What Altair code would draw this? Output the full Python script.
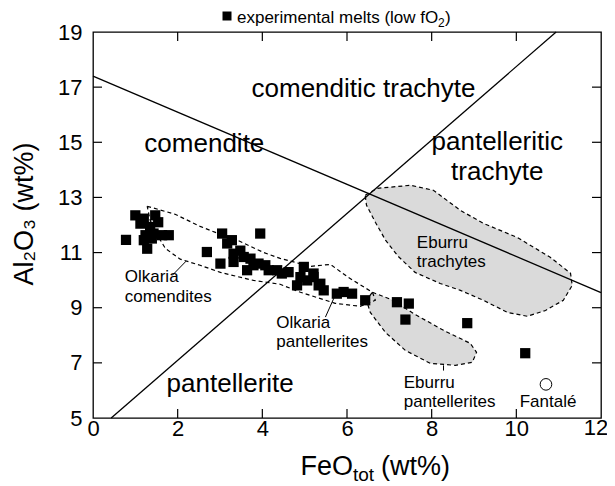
import altair as alt
import pandas as pd

FONT = "Liberation Sans"

# experimental melts (low fO2)
melt_x = [0.78, 1.00, 1.20, 1.47, 1.12, 1.35, 1.24, 1.43, 1.79, 1.63, 1.20, 1.39, 1.28, 1.54,
          2.69, 3.01, 3.05, 3.95, 3.17, 3.28, 3.32, 3.32, 3.56, 3.72, 3.79, 3.91, 4.07, 4.15,
          4.35, 4.46, 4.62, 4.98, 4.90, 5.06, 5.21, 4.82, 5.33, 5.45, 3.48, 3.64, 5.21, 5.37,
          5.76, 5.92, 6.12, 6.43, 7.18, 7.46, 7.38, 8.84, 10.21]
melt_y = [11.46, 12.35, 12.23, 12.35, 12.05, 11.93, 11.63, 11.69, 11.63, 11.63, 11.45, 11.51, 11.14, 12.10,
          11.02, 10.60, 11.69, 11.69, 11.33, 11.45, 10.96, 10.66, 10.84, 10.78, 10.54, 10.60, 10.54, 10.36,
          10.36, 10.24, 10.29, 10.48, 10.11, 9.99, 10.11, 9.81, 9.81, 9.63, 11.07, 10.36, 10.24, 9.87,
          9.51, 9.57, 9.51, 9.27, 9.20, 9.15, 8.57, 8.44, 7.35]

fantale_x = [10.70]
fantale_y = [6.22]

# classification boundaries
line1_x = [0.0, 12.0]
line1_y = [17.40, 9.55]
line2_x = [0.43, 10.94]
line2_y = [5.0, 19.0]

# fields (dashed outlines)
olk_x = [1.28, 1.94, 2.53, 3.01, 3.41, 4.02, 4.42, 5.13, 5.61, 6.03, 6.60, 6.67, 6.31, 5.72,
         4.90, 4.42, 3.79, 3.01, 2.53, 2.06, 1.71, 1.52, 1.35, 1.28]
olk_y = [12.68, 12.39, 11.95, 11.66, 11.45, 11.01, 10.79, 10.50, 10.57, 10.10, 9.56, 9.27, 9.05, 9.16,
         9.56, 9.85, 9.99, 10.28, 10.54, 10.76, 11.15, 11.63, 12.17, 12.68]
ebt_x = [6.43, 6.72, 7.50, 8.04, 8.68, 9.22, 10.02, 10.80, 11.28, 11.32, 11.11, 10.69, 10.26, 9.79,
         9.22, 8.68, 8.20, 7.61, 7.21, 6.91, 6.67, 6.46, 6.43]
ebt_y = [13.08, 13.33, 13.44, 13.26, 12.53, 12.06, 11.55, 10.83, 10.25, 9.81, 9.27, 8.90, 8.69, 8.83,
         9.27, 9.63, 9.88, 10.28, 10.86, 11.45, 12.10, 12.72, 13.08]
ebp_x = [6.60, 7.09, 7.57, 8.28, 8.91, 9.06, 8.96, 8.56, 7.97, 7.38, 6.91, 6.55, 6.46, 6.60]
ebp_y = [9.56, 9.27, 8.79, 8.18, 7.71, 7.38, 7.02, 6.91, 6.98, 7.45, 8.10, 8.83, 9.27, 9.56]

# leader lines
lead_id = ["a", "a", "b", "b", "c", "c"]
lead_x = [1.87, 2.20, 5.49, 5.72, 8.28, 8.28]
lead_y = [10.17, 10.69, 8.66, 9.45, 6.91, 6.72]

# field names
big_text = ["comenditic trachyte", "comendite", "pantelleritic", "trachyte", "pantellerite"]
big_x = [6.39, 2.63, 9.55, 9.55, 3.24]
big_y = [16.64, 14.64, 14.71, 13.62, 5.93]

small_text = ["Olkaria", "comendites", "Olkaria", "pantellerites", "Eburru", "trachytes",
              "Eburru", "pantellerites", "Fantalé"]
small_x = [0.75, 0.75, 4.33, 4.33, 7.65, 7.65, 7.34, 7.34, 10.08]
small_y = [9.93, 9.20, 8.28, 7.57, 11.18, 10.48, 6.10, 5.39, 5.39]

x_ticks = [2, 4, 6, 8, 10]
y_ticks = [7, 9, 11, 13, 15, 17]
x_labels = [0, 2, 4, 6, 8, 10]
x_last_label = [12]
y_labels = [5, 7, 9, 11, 13, 15, 17, 19]

W, H = 508, 386
xs = alt.Scale(domain=[0, 12], nice=False, zero=False)
ys = alt.Scale(domain=[5, 19], nice=False, zero=False)

axis_x = alt.Axis(values=x_labels, tickSize=0, domain=False, grid=False, title=None,
                  labelFontSize=22, labelFont=FONT, labelColor="black", labelPadding=0,
                  labelFlush=False)
axis_y = alt.Axis(values=y_labels, tickSize=0, domain=False, grid=False, title=None,
                  labelFontSize=22, labelFont=FONT, labelColor="black", labelPadding=11,
                  labelFlush=False)


def poly(name, xv, yv):
    return pd.DataFrame({"x": xv, "y": yv, "o": list(range(len(xv))), "f": name})


def X():
    return alt.X("x:Q", scale=xs, axis=axis_x)


def Y():
    return alt.Y("y:Q", scale=ys, axis=axis_y)


# filled Eburru fields
eb_df = pd.concat([poly("ebt", ebt_x, ebt_y), poly("ebp", ebp_x, ebp_y)])
eb_fill = alt.Chart(eb_df).mark_line(fill="#dadada", stroke="black", strokeWidth=1.2,
                                     strokeDash=[4, 3]).encode(
    x=X(), y=Y(), order="o:Q", detail="f:N")
olk = alt.Chart(poly("olk", olk_x, olk_y)).mark_line(stroke="black", strokeWidth=1.2,
                                                     strokeDash=[4, 3]).encode(
    x=X(), y=Y(), order="o:Q")

lines_df = pd.concat([poly("l1", line1_x, line1_y), poly("l2", line2_x, line2_y)])
bounds = alt.Chart(lines_df).mark_line(stroke="black", strokeWidth=1.3).encode(
    x=X(), y=Y(), order="o:Q", detail="f:N")

lead_df = pd.DataFrame({"x": lead_x, "y": lead_y, "g": lead_id})
leaders = alt.Chart(lead_df).mark_line(stroke="black", strokeWidth=1).encode(
    x=X(), y=Y(), detail="g:N")

melts = alt.Chart(pd.DataFrame({"x": melt_x, "y": melt_y})).mark_point(
    shape="square", filled=True, size=105, color="black", opacity=1).encode(x=X(), y=Y())

fant = alt.Chart(pd.DataFrame({"x": fantale_x, "y": fantale_y})).mark_point(
    shape="circle", filled=True, fill="white", stroke="black", strokeWidth=1, size=135, opacity=1).encode(
    x=X(), y=Y())

big = alt.Chart(pd.DataFrame({"x": big_x, "y": big_y, "t": big_text})).mark_text(
    font=FONT, fontSize=26, align="center", baseline="alphabetic", color="black").encode(
    x=X(), y=Y(), text="t:N")
small = alt.Chart(pd.DataFrame({"x": small_x, "y": small_y, "t": small_text})).mark_text(
    font=FONT, fontSize=17, align="left", baseline="alphabetic", color="black").encode(
    x=X(), y=Y(), text="t:N")

# last x tick label, nudged so it stays inside the page
last_lab = alt.Chart(pd.DataFrame({"x": x_last_label})).mark_text(
    font=FONT, fontSize=22, align="center", baseline="top", color="black", dx=-5).encode(
    x=X(), y=alt.value(H), text="x:Q")

# frame ticks (inward)
xt_df = pd.DataFrame({"x": x_ticks})
yt_df = pd.DataFrame({"y": y_ticks})
tick_b = alt.Chart(xt_df).mark_rule(color="black", strokeWidth=1.2).encode(
    x=X(), y=alt.value(H), y2=alt.value(H - 9))
tick_t = alt.Chart(xt_df).mark_rule(color="black", strokeWidth=1.2).encode(
    x=X(), y=alt.value(0), y2=alt.value(9))
tick_l = alt.Chart(yt_df).mark_rule(color="black", strokeWidth=1.2).encode(
    y=Y(), x=alt.value(0), x2=alt.value(9))
tick_r = alt.Chart(yt_df).mark_rule(color="black", strokeWidth=1.2).encode(
    y=Y(), x=alt.value(W), x2=alt.value(W - 9))

one = pd.DataFrame({"k": [0]})


def label(txt, x, y, size, align="left", angle=0, baseline="alphabetic"):
    return alt.Chart(one).mark_text(text=txt, font=FONT, fontSize=size, align=align,
                                    baseline=baseline, angle=angle, color="black").encode(
        x=alt.value(x), y=alt.value(y))


titles = [
    label("Al₂O₃ (wt%)", -60, 182, 27, align="center", angle=270, baseline="alphabetic"),
    label("FeO", 260, 443, 27, align="right"),
    label("tot", 260, 449, 19),
    label("(wt%)", 288, 443, 27),
]
legend_sq = alt.Chart(one).mark_point(shape="square", filled=True, size=81, color="black",
                                      opacity=1).encode(x=alt.value(134), y=alt.value(-16))
legend = [
    legend_sq,
    label("experimental melts (low fO", 144, -9, 17),
    label("2", 345, -5, 12),
    label(")", 352, -9, 17),
]

chart = alt.layer(
    eb_fill, olk, bounds, leaders, tick_b, tick_t, tick_l, tick_r, melts, fant, big, small,
    last_lab, *titles, *legend
).properties(
    width=W, height=H, autosize="none", background="white",
    padding={"left": 85, "top": 24, "right": 6, "bottom": 68}
).configure_view(stroke="black", strokeWidth=1.3)

chart.save("out.html", embed_options={"renderer": "svg", "actions": False})
